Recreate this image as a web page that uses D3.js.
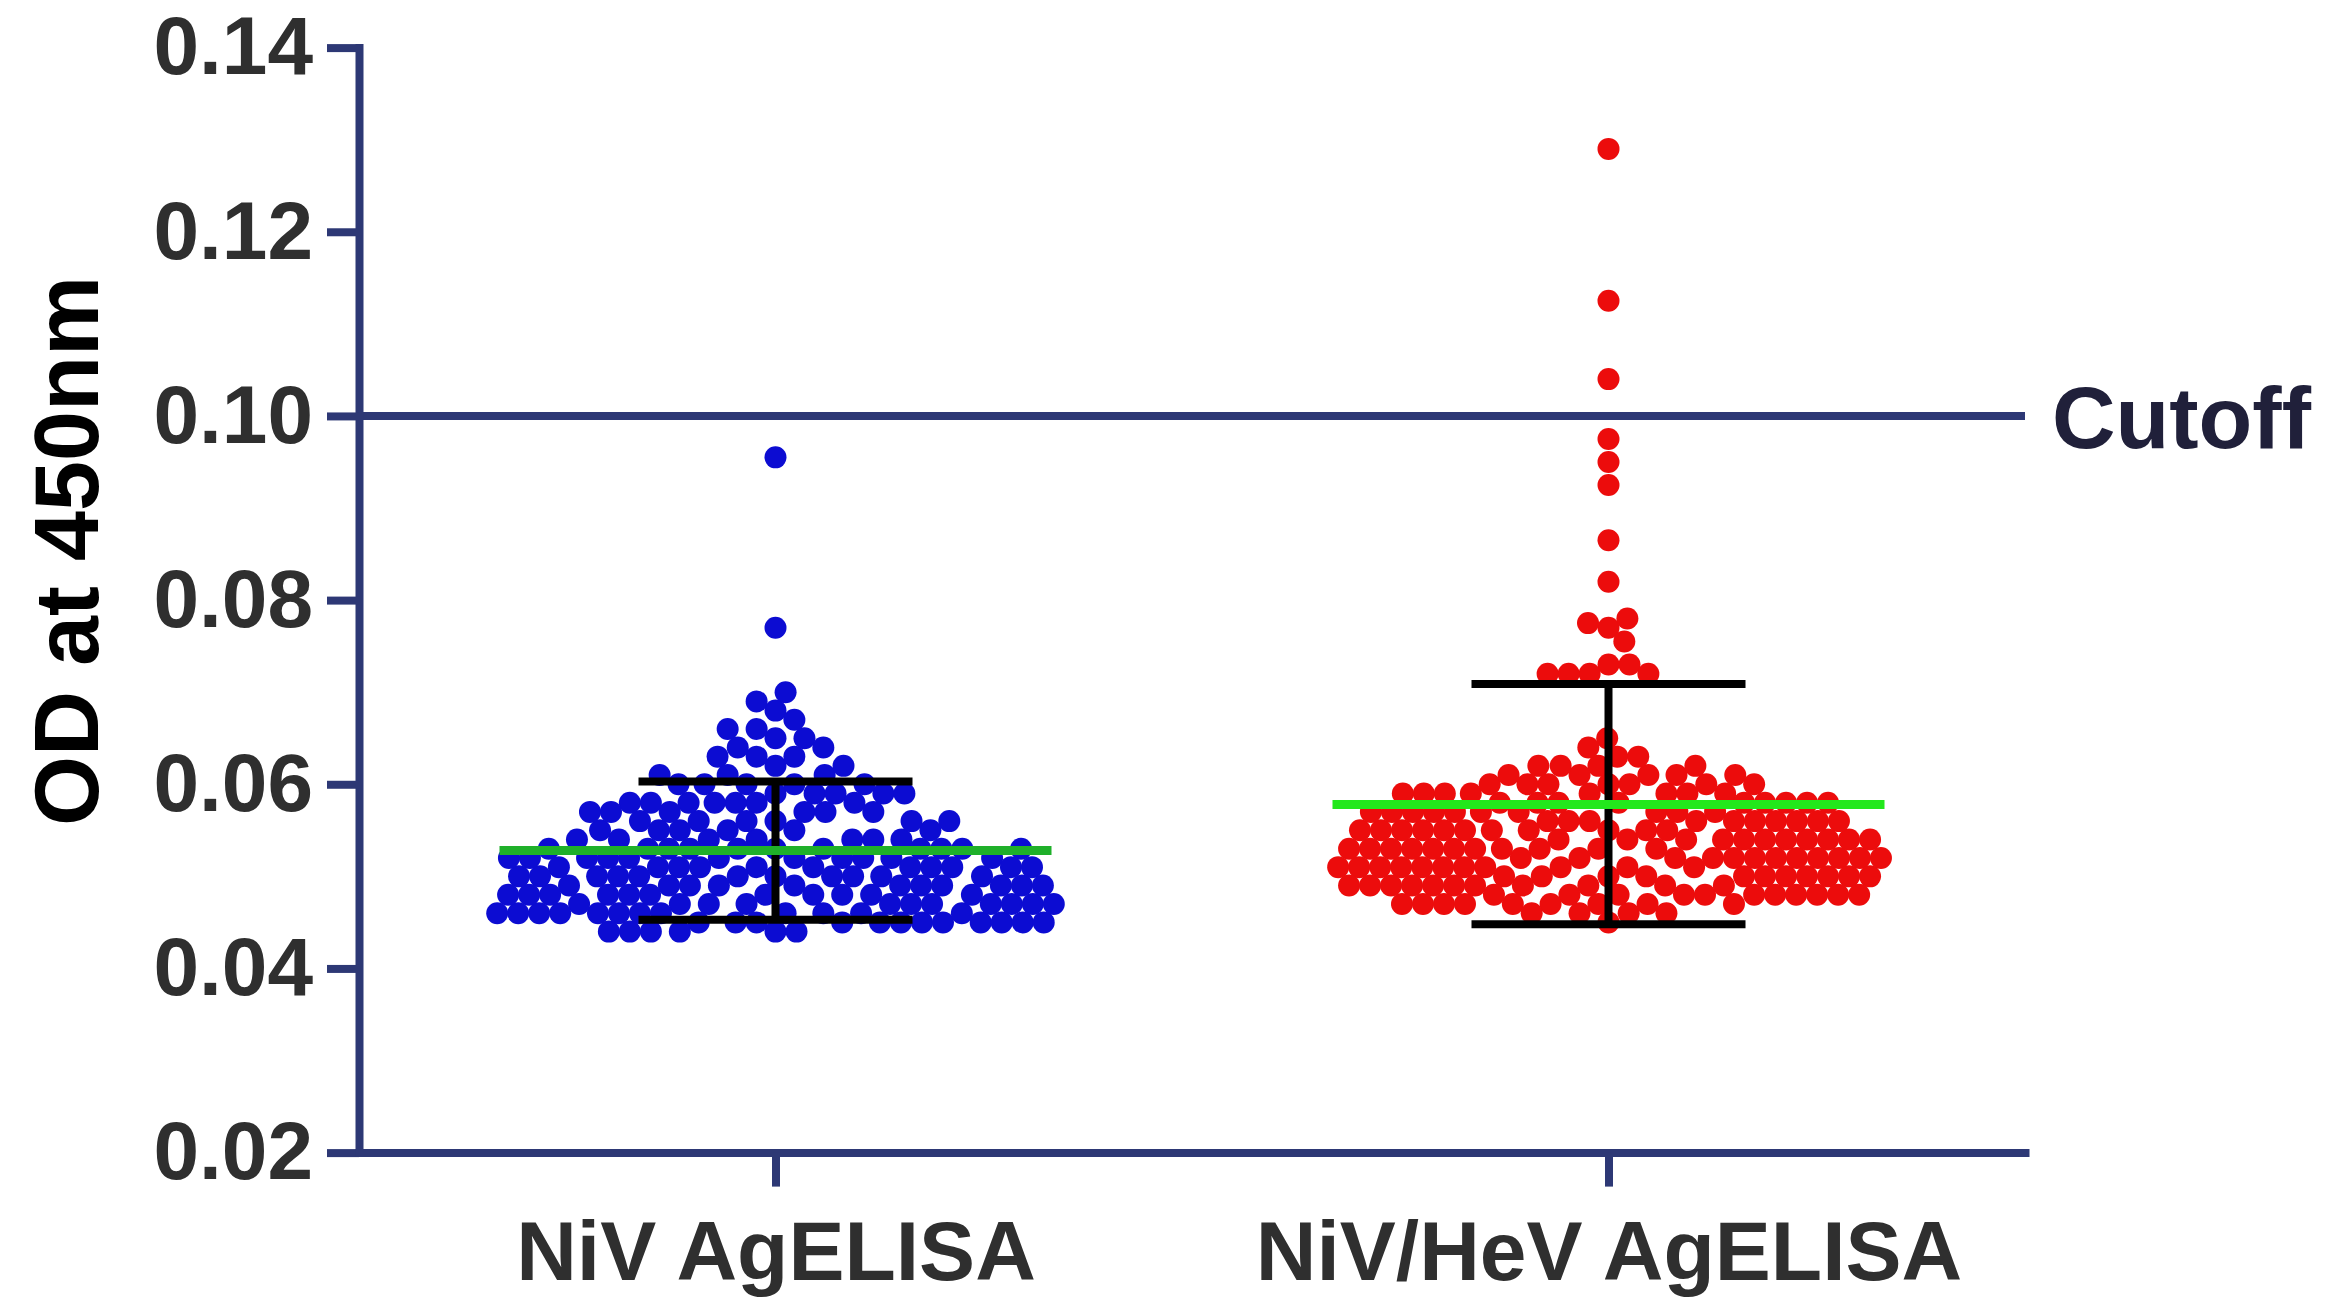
<!DOCTYPE html>
<html>
<head>
<meta charset="utf-8">
<script src="https://cdn.jsdelivr.net/npm/d3@7/dist/d3.min.js"></script>
<style>
  html, body { margin: 0; padding: 0; background: #ffffff; }
  svg { display: block; }
  text { font-family: "Liberation Sans", Arial, Helvetica, sans-serif; font-weight: bold; }
</style>
</head>
<body>
<svg id="chart" width="2335" height="1314"></svg>
<script>
// ---------------- data ----------------
const categories = ["NiV AgELISA", "NiV/HeV AgELISA"];
const yTickValues = [0.02, 0.04, 0.06, 0.08, 0.10, 0.12, 0.14];
const yLabel = "OD at 450nm";
const cutoffValue = 0.10;
const cutoffLabel = "Cutoff";

// NiV AgELISA: OD levels and number of samples at each level
const nivLevels = [0.044, 0.045, 0.046, 0.047, 0.048, 0.049, 0.050, 0.051, 0.052, 0.053,
                   0.054, 0.055, 0.056, 0.057, 0.058, 0.059, 0.060, 0.061, 0.062, 0.063,
                   0.064, 0.065, 0.066, 0.067, 0.068, 0.069, 0.070, 0.077, 0.0955];
const nivCounts = [6, 12, 12, 11, 11, 11, 11, 11, 11, 11,
                   7, 6, 6, 6, 7, 5, 5, 3, 2, 3,
                   2, 2, 2, 1, 1, 1, 1, 1, 1];

// NiV/HeV AgELISA
const hevLevels = [0.045, 0.046, 0.047, 0.048, 0.049, 0.050, 0.051, 0.052, 0.053, 0.054,
                   0.055, 0.056, 0.057, 0.058, 0.059, 0.060, 0.061, 0.062, 0.063, 0.064,
                   0.065, 0.072, 0.073, 0.0755, 0.077, 0.0775, 0.078, 0.082, 0.0865,
                   0.0925, 0.095, 0.0975, 0.104, 0.1125, 0.129];
const hevCounts = [1, 4, 9, 11, 11, 11, 11, 12, 11, 11,
                   11, 10, 10, 9, 8, 7, 5, 4, 2, 1,
                   1, 4, 2, 1, 1, 1, 1, 1, 1,
                   1, 1, 1, 1, 1, 1];

// summary statistics drawn on the chart (mean line, error bar ends)
const meanValues = [0.0528, 0.0578];
const barLow = [0.0453, 0.0448];
const barHigh = [0.0603, 0.0709];

// ---------------- layout / style ----------------
const plot = { left: 359, right: 2025, top: 47.6, bottom: 1152.6 };
const axisColor = "#2d3875";
const dotColors = ["#0c0cd2", "#ec0c0c"];
const meanColors = ["#1fb02a", "#22e81c"];
const dotR = 11;
const packDist = 21;   // centre-to-centre spacing used by the swarm layout

const svg = d3.select("#chart");

const y = d3.scaleLinear().domain([0.02, 0.14]).range([plot.bottom, plot.top]);
const x = d3.scalePoint().domain(categories).range([plot.left, plot.right]).padding(0.5);

function expand(levels, counts) {
  const out = [];
  levels.forEach((v, i) => { for (let k = 0; k < counts[i]; k++) out.push(v); });
  return out;
}
const groups = [expand(nivLevels, nivCounts), expand(hevLevels, hevCounts)];

// greedy beeswarm: every point keeps its exact y, x offset is the free spot nearest the centre
function swarm(vals, xc) {
  const n = vals.length;
  const order = d3.range(n).sort((a, b) => ((a * 37) % 101 + a / 1000) - ((b * 37) % 101 + b / 1000));
  const placed = [];
  order.forEach(i => {
    const py = y(vals[i]);
    const ivs = [];
    placed.forEach(q => {
      const dy = Math.abs(q.y - py);
      if (dy < packDist) {
        const h = Math.sqrt(packDist * packDist - dy * dy);
        ivs.push([q.dx - h, q.dx + h]);
      }
    });
    const cands = [0];
    ivs.forEach(iv => { cands.push(iv[0], iv[1]); });
    cands.sort((a, b) => Math.abs(a) - Math.abs(b) || a - b);
    let best = 0;
    for (const c of cands) {
      if (ivs.every(iv => c <= iv[0] + 1e-6 || c >= iv[1] - 1e-6)) { best = c; break; }
    }
    placed.push({ v: vals[i], y: py, dx: best });
  });
  return placed.map(p => ({ v: p.v, cx: xc + p.dx, cy: p.y }));
}

const dotsG = svg.append("g");
groups.forEach((vals, gi) => {
  const xc = x(categories[gi]);
  dotsG.append("g").selectAll("circle")
    .data(swarm(vals, xc)).join("circle")
    .attr("cx", d => d.cx)
    .attr("cy", d => d.cy)
    .attr("r", dotR)
    .attr("fill", dotColors[gi]);
});

// ---------------- error bars ----------------
const ebG = svg.append("g").attr("stroke", "#000").attr("stroke-width", 8).attr("fill", "none");
categories.forEach((c, i) => {
  const xc = x(c);
  const half = 137;
  ebG.append("line").attr("x1", xc).attr("x2", xc).attr("y1", y(barHigh[i])).attr("y2", y(barLow[i]));
  ebG.append("line").attr("x1", xc - half).attr("x2", xc + half).attr("y1", y(barHigh[i])).attr("y2", y(barHigh[i]));
  ebG.append("line").attr("x1", xc - half).attr("x2", xc + half).attr("y1", y(barLow[i])).attr("y2", y(barLow[i]));
});

// ---------------- mean lines ----------------
categories.forEach((c, i) => {
  const xc = x(c);
  svg.append("line")
    .attr("x1", xc - 276).attr("x2", xc + 276)
    .attr("y1", y(meanValues[i])).attr("y2", y(meanValues[i]))
    .attr("stroke", meanColors[i]).attr("stroke-width", 9);
});

// ---------------- cutoff ----------------
svg.append("line")
  .attr("x1", plot.left).attr("x2", plot.right)
  .attr("y1", y(cutoffValue)).attr("y2", y(cutoffValue))
  .attr("stroke", axisColor).attr("stroke-width", 8);
svg.append("text")
  .attr("x", 2052).attr("y", y(cutoffValue))
  .attr("dy", "0.36em")
  .attr("font-size", 88)
  .attr("fill", "#20203a")
  .text(cutoffLabel);

// ---------------- axes ----------------
const yAxis = d3.axisLeft(y).tickValues(yTickValues).tickFormat(d3.format(".2f"))
  .tickSize(32).tickSizeOuter(0).tickPadding(14);
const gy = svg.append("g").attr("transform", `translate(${plot.left},0)`).call(yAxis);

const xAxis = d3.axisBottom(x).tickSize(34).tickSizeOuter(0).tickPadding(34);
const gx = svg.append("g").attr("transform", `translate(0,${plot.bottom})`).call(xAxis);

[gy, gx].forEach(g => {
  g.attr("font-family", null);
  g.select(".domain").attr("stroke", axisColor).attr("stroke-width", 8).attr("stroke-linecap", "square");
  g.selectAll(".tick line").attr("stroke", axisColor).attr("stroke-width", 8);
  g.selectAll(".tick text").attr("fill", "#2f2f2f");
});
gy.selectAll(".tick text").attr("font-size", 82);
gx.selectAll(".tick text").attr("font-size", 84);

// y axis title
svg.append("text")
  .attr("transform", `translate(98,551) rotate(-90)`)
  .attr("text-anchor", "middle")
  .attr("font-size", 90)
  .attr("fill", "#000")
  .text(yLabel);
</script>
</body>
</html>
